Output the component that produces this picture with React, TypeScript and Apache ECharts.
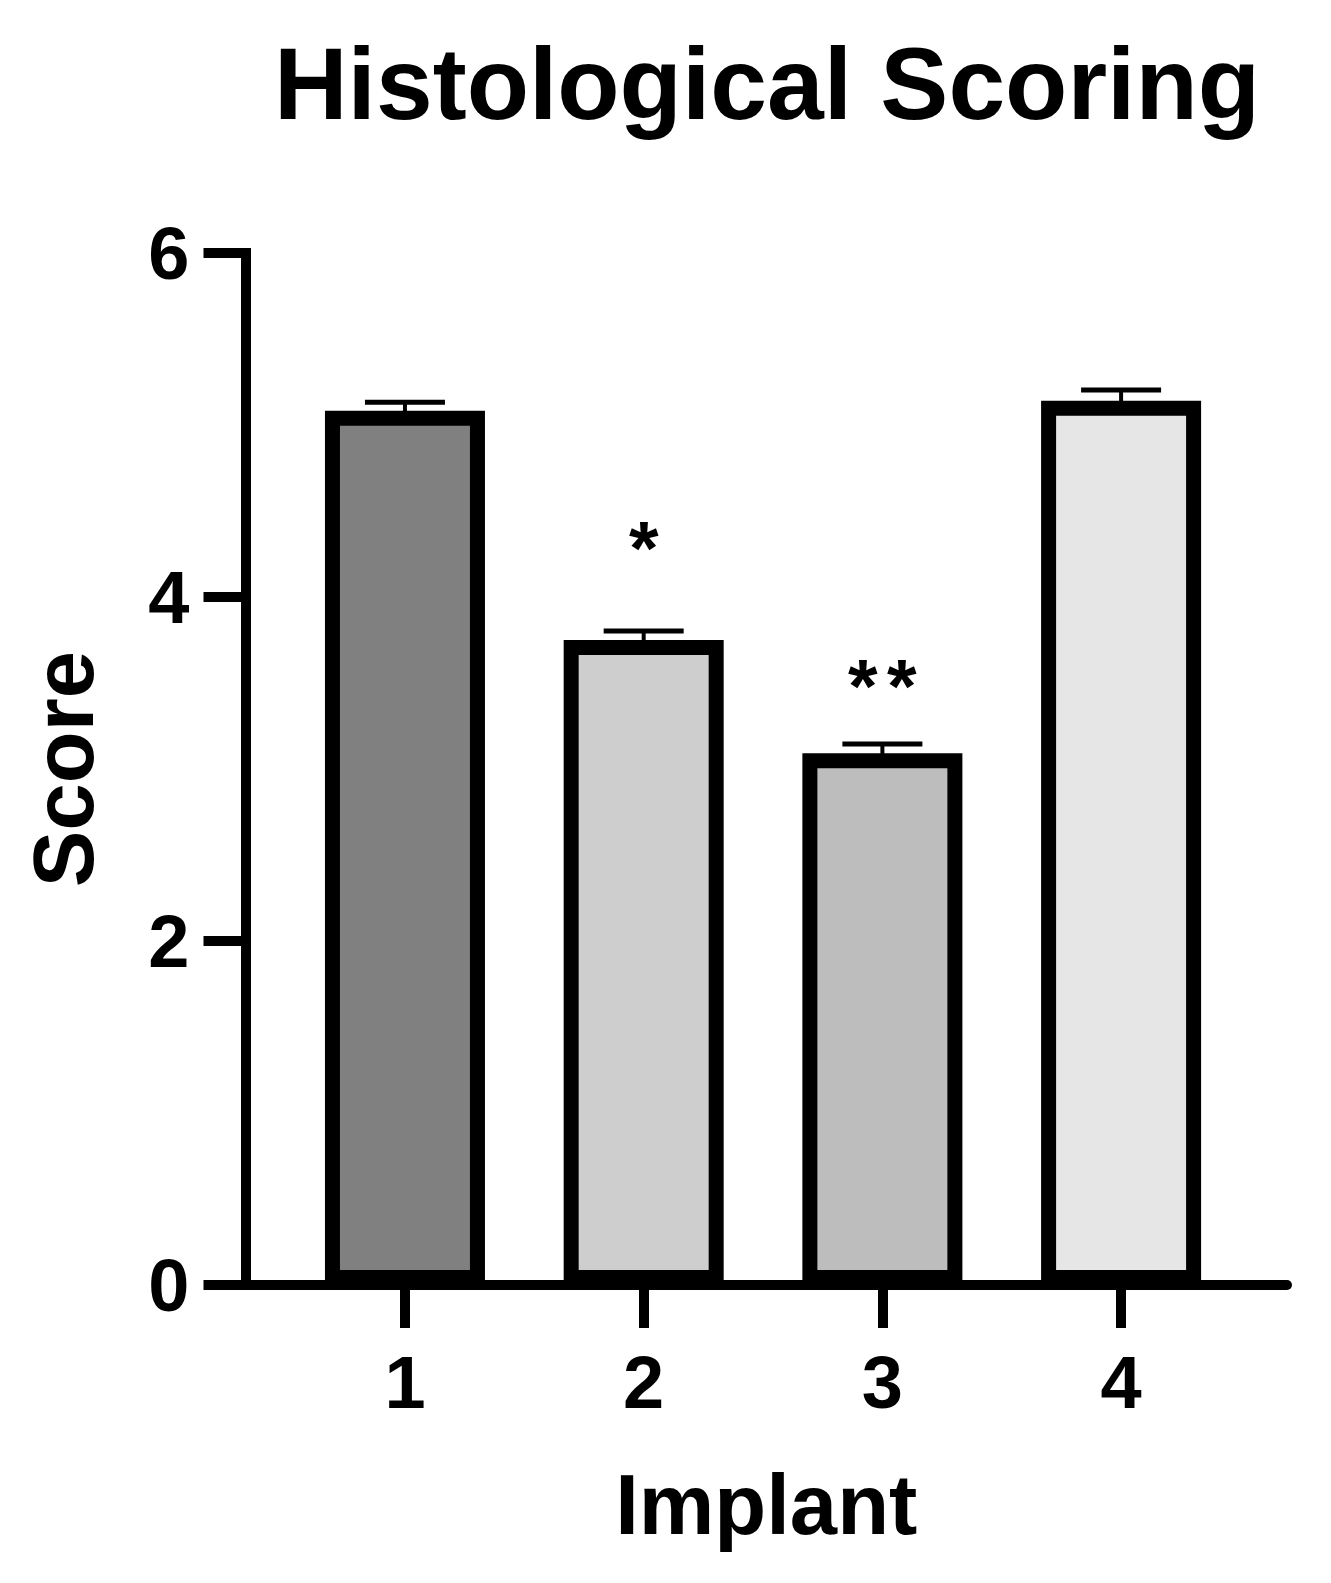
import React, { useEffect, useRef } from "react";
import * as echarts from "echarts";

const titleText = "Histological Scoring";
const xName = "Implant";
const yName = "Score";
const categories = [1, 2, 3, 4];
const xTickLabels = ["1", "2", "3", "4"];
const means = [5.083, 3.75, 3.091, 5.141];
const sems = [0.049, 0.052, 0.054, 0.062];
const barColors = ["#808080", "#cececf", "#bdbdbd", "#e6e6e6"];
const sigLabels = ["", "*", "**", ""];
const sigValues = [0, 4.385, 3.585, 0];
const yTicks = [0, 2, 4, 6];

const FONT = "'Liberation Sans', Arial, sans-serif";

export default function App() {
  const ref = useRef<HTMLDivElement>(null);
  useEffect(() => {
    if (!ref.current) return;
    const chart = echarts.init(ref.current, null, { renderer: "svg" });
    const starSize = 76;
    const option: any = {
      animation: false,
      backgroundColor: "#ffffff",
      title: {
        text: titleText,
        left: 762,
        top: 28,
        textAlign: "center",
        textStyle: { fontFamily: FONT, fontWeight: "bold", fontSize: 102, color: "#000" },
      },
      grid: { left: 245.5, right: 44, top: 253, bottom: 298, containLabel: false },
      xAxis: {
        type: "value",
        min: 0.332,
        max: 4.695,
        name: xName,
        nameLocation: "middle",
        nameGap: 177,
        nameTextStyle: { fontFamily: FONT, fontWeight: "bold", fontSize: 85, color: "#000", verticalAlign: "top" },
        splitLine: { show: false },
        axisLine: { show: true, lineStyle: { color: "#000", width: 10 } },
        axisTick: { show: true, length: 43, customValues: categories, lineStyle: { color: "#000", width: 10 } },
        axisLabel: {
          customValues: categories,
          formatter: (v: number) => xTickLabels[categories.indexOf(v)] ?? String(v),
          margin: 60,
          fontFamily: FONT,
          fontWeight: "bold",
          fontSize: 74,
          color: "#000",
        },
      },
      yAxis: {
        type: "value",
        min: 0,
        max: 6,
        interval: 2,
        name: yName,
        nameLocation: "middle",
        nameRotate: 90,
        nameGap: 140,
        nameTextStyle: { fontFamily: FONT, fontWeight: "bold", fontSize: 85, color: "#000" },
        splitLine: { show: false },
        axisLine: { show: true, lineStyle: { color: "#000", width: 10, cap: "square" } },
        axisTick: { show: true, length: 42, lineStyle: { color: "#000", width: 10 } },
        axisLabel: {
          margin: 56,
          formatter: (v: number) => (yTicks.includes(v) ? String(v) : ""),
          fontFamily: FONT,
          fontWeight: "bold",
          fontSize: 74,
          color: "#000",
        },
      },
      series: [
        {
          type: "bar",
          barWidth: 160,
          data: categories.map((c, i) => ({
            value: [c, means[i]],
            itemStyle: { color: barColors[i], borderColor: "#000", borderWidth: 15 },
          })),
          z: 3,
        },
        {
          type: "custom",
          z: 2,
          encode: { x: 0, y: [1, 2] },
          data: categories.map((c, i) => [c, means[i], means[i] + sems[i], sigValues[i], i]),
          renderItem: (params: any, api: any) => {
            const x = api.value(0);
            const m = api.value(1);
            const u = api.value(2);
            const s = api.value(3);
            const idx = api.value(4);
            const p0 = api.coord([x, m]);
            const p1 = api.coord([x, u]);
            const children: any[] = [
              {
                type: "line",
                shape: { x1: p0[0], y1: p0[1] + 4, x2: p1[0], y2: p1[1] },
                style: { stroke: "#000", lineWidth: 4 },
              },
              {
                type: "line",
                shape: { x1: p1[0] - 40, y1: p1[1], x2: p1[0] + 40, y2: p1[1] },
                style: { stroke: "#000", lineWidth: 5 },
              },
            ];
            const lab = sigLabels[idx];
            if (lab) {
              const ps = api.coord([x, s]);
              const chars = lab.split("");
              const n = chars.length;
              chars.forEach((ch: string, k: number) => {
                children.push({
                  type: "text",
                  x: ps[0] + (k - (n - 1) / 2) * 39,
                  y: ps[1] + 0.22 * starSize,
                  style: {
                    text: ch,
                    fontFamily: FONT,
                    fontWeight: "bold",
                    fontSize: starSize,
                    fill: "#000",
                    textAlign: "center",
                    textVerticalAlign: "middle",
                  },
                });
              });
            }
            return { type: "group", children };
          },
        },
      ],
    };
    chart.setOption(option);
    return () => chart.dispose();
  }, []);
  return (
    <div
      ref={ref}
      style={{ position: "absolute", left: 0, top: 0, width: 1331, height: 1583, background: "#fff" }}
    />
  );
}
